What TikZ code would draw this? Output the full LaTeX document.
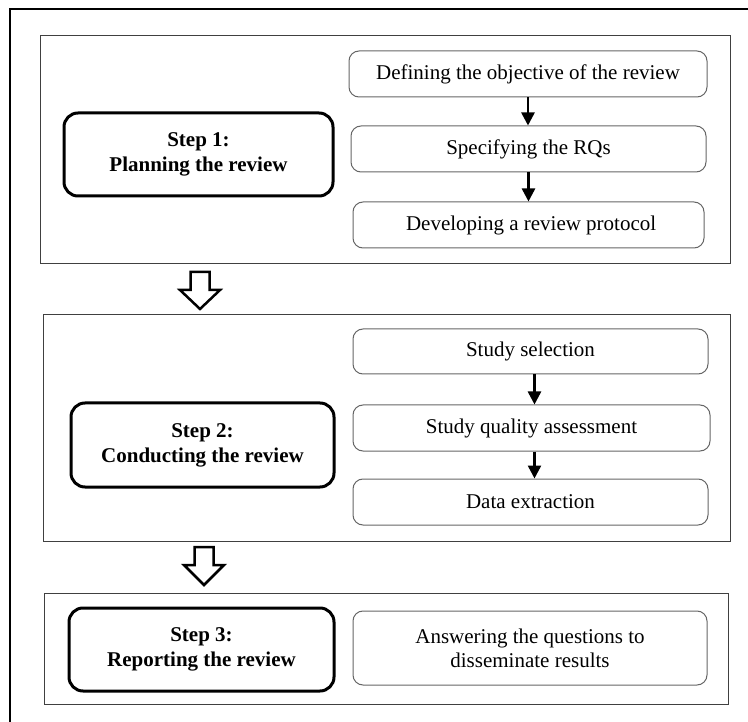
\documentclass[tikz,border=0pt]{standalone}
\usepackage{fontspec}
\setmainfont{Liberation Serif}
\usetikzlibrary{arrows.meta}
\begin{document}
\begin{tikzpicture}[x=1pt,y=-1pt,
  panel/.style={draw=black!75, line width=1pt, inner sep=0pt},
  stepbox/.style={draw=black, line width=3pt, rounded corners=14pt, inner sep=0pt, align=center,
    font=\fontsize{21}{25}\selectfont\bfseries},
  subbox/.style={draw=black!60, line width=1pt, rounded corners=10pt, inner sep=0pt, align=center,
    font=\fontsize{21}{24}\selectfont},
  smallarr/.style={line width=2.5pt, -{Triangle[width=13pt,length=13pt]}},
  hollow/.style={draw=black, line width=2.5pt, fill=white, line join=miter}
]
\useasboundingbox (0,0) rectangle (748,722);
\fill[white] (0,0) rectangle (748,722);
% outer frame (cropped)
\draw[line width=2pt] (748,9) -- (10,9) -- (10,722);

% panels
\node[panel, minimum width=690pt, minimum height=228pt] (p1) at (385,150) {};
\node[panel, minimum width=687pt, minimum height=226pt] (p2) at (386.5,428) {};
\node[panel, minimum width=684pt, minimum height=111pt] (p3) at (386,648.5) {};

% step boxes
\node[stepbox, minimum width=269pt, minimum height=83pt] (s1) at (198.5,154.5) {Step 1:\\Planning the review};
\node[stepbox, minimum width=263pt, minimum height=84pt] (s2) at (202.5,445) {Step 2:\\Conducting the review};
\node[stepbox, minimum width=265pt, minimum height=83pt] (s3) at (201.5,649.5) {Step 3:\\Reporting the review};

% sub boxes panel 1
\node[subbox, minimum width=358pt, minimum height=46pt] (a) at (528,74) {Defining the objective of the review};
\node[subbox, minimum width=355pt, minimum height=46pt] (b) at (528.5,149) {Specifying the RQs};
\node[subbox, minimum width=351pt, minimum height=46pt] (c) at (528.5,225) {\ Developing a review protocol};

% sub boxes panel 2
\node[subbox, minimum width=355pt, minimum height=45pt] (d) at (530.5,351.5) {Study selection};
\node[subbox, minimum width=357pt, minimum height=46pt] (e) at (531.5,428) {Study quality assessment};
\node[subbox, minimum width=355pt, minimum height=46pt] (f) at (530.5,502) {Data extraction};

% sub box panel 3
\node[subbox, minimum width=354pt, minimum height=74pt] (g) at (530,648) {Answering the questions to\\disseminate results};

% small arrows
\draw[smallarr] (a.south) -- (a.south |- b.north);
\draw[smallarr] (b.south) -- (b.south |- c.north);
\draw[smallarr] ([xshift=4pt]d.south) -- ([xshift=4pt]d.south |- e.north);
\draw[smallarr] ([xshift=3pt]e.south) -- ([xshift=3pt]e.south |- f.north);

% hollow arrows between panels
\coordinate (h1) at (200,272);
\draw[hollow] ([xshift=-9.5pt]h1) -- ([xshift=9.5pt]h1) -- ([xshift=9.5pt,yshift=-18pt]h1)
  -- ([xshift=20pt,yshift=-18pt]h1) -- ([yshift=-37pt]h1) -- ([xshift=-20pt,yshift=-18pt]h1)
  -- ([xshift=-9.5pt,yshift=-18pt]h1) -- cycle;
\coordinate (h2) at (204,547);
\draw[hollow] ([xshift=-9.5pt]h2) -- ([xshift=9.5pt]h2) -- ([xshift=9.5pt,yshift=-18pt]h2)
  -- ([xshift=20pt,yshift=-18pt]h2) -- ([yshift=-38pt]h2) -- ([xshift=-20pt,yshift=-18pt]h2)
  -- ([xshift=-9.5pt,yshift=-18pt]h2) -- cycle;
\end{tikzpicture}
\end{document}
